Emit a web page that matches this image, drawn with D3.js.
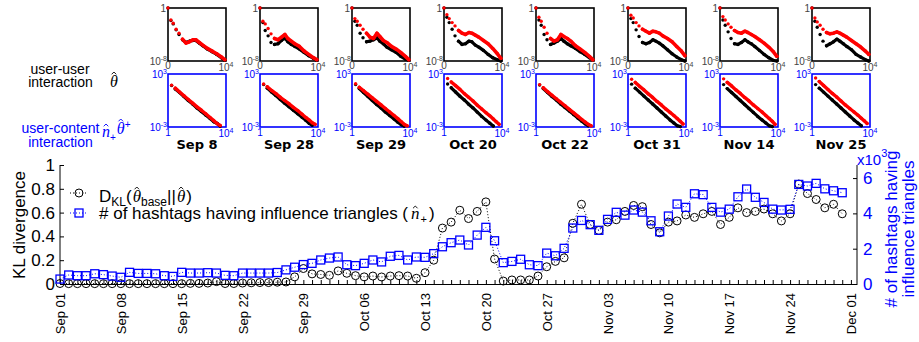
<!DOCTYPE html>
<html>
<head>
<meta charset="utf-8">
<script src="https://cdn.jsdelivr.net/npm/d3@7"></script>
<style>
  body { margin: 0; background: #fff; }
  svg { display: block; }
</style>
</head>
<body>
<svg id="chart" width="919" height="342"></svg>
<script>
// daily values, Sep 01 .. Nov 30
const klDiv = [0.004, 0.003, 0.003, 0.003, 0.003, 0.003, 0.003, 0.003, 0.003, 0.003,
  0.003, 0.003, 0.003, 0.003, 0.003, 0.005, 0.005, 0.008, 0.02, 0.004,
  0.004, 0.008, 0.01, 0.012, 0.012, 0.015, 0.017, 0.06, 0.13, 0.085,
  0.08, 0.073, 0.11, 0.09, 0.07, 0.06, 0.067, 0.059, 0.067, 0.07,
  0.067, 0.048, 0.095, 0.2, 0.47, 0.52, 0.62, 0.55, 0.61, 0.69,
  0.21, 0.025, 0.034, 0.034, 0.034, 0.067, 0.145, 0.19, 0.22, 0.51,
  0.67, 0.5, 0.45, 0.52, 0.54, 0.61, 0.66, 0.65, 0.5, 0.43,
  0.52, 0.53, 0.58, 0.56, 0.59, 0.61, 0.5, 0.56, 0.64, 0.6,
  0.61, 0.63, 0.59, 0.53, 0.59, 0.84, 0.76, 0.71, 0.64, 0.67, 0.59];
// # of hashtags having influence triangles (x10^3)
const nTriangles = [0.28, 0.51, 0.47, 0.47, 0.58, 0.53, 0.45, 0.38, 0.66, 0.6,
  0.6, 0.58, 0.47, 0.43, 0.66, 0.62, 0.62, 0.64, 0.62, 0.49,
  0.47, 0.62, 0.62, 0.62, 0.62, 0.65, 0.8, 0.95, 1.1, 1.17,
  1.36, 1.47, 1.53, 1.09, 1.04, 1.17, 1.36, 1.25, 1.57, 1.62,
  1.36, 1.53, 1.51, 1.72, 2.11, 2.34, 2.49, 2.21, 2.77, 3.21,
  2.45, 1.21, 1.28, 1.4, 1.09, 1.04, 1.75, 1.6, 2.02, 3.17,
  3.6, 3.36, 3.04, 3.66, 4.06, 3.9, 4.19, 4.07, 3.58, 2.96,
  3.85, 4.53, 4.34, 5.11, 5.06, 4.34, 4.07, 4.24, 4.94, 5.38,
  4.91, 4.62, 4.24, 4.19, 4.23, 5.64, 5.55, 5.7, 5.39, 5.28, 5.17];
const xTickLabels = ["Sep 01", "Sep 08", "Sep 15", "Sep 22", "Sep 29", "Oct 06", "Oct 13",
  "Oct 20", "Oct 27", "Nov 03", "Nov 10", "Nov 17", "Nov 24", "Dec 01"];
const leftTicks = [0, 0.2, 0.4, 0.6, 0.8, 1];
const rightTicks = [0, 2, 4, 6];

// small panels
const panelDates = ["Sep 8", "Sep 28", "Sep 29", "Oct 20", "Oct 22", "Oct 31", "Nov 14", "Nov 25"];
// user-user: x linear 0..1e4, y as log10 exponent
const uuX = [0, 500, 900, 1400, 1900, 2500, 3100, 3700, 4300, 4800, 5400, 6000, 6800, 7600, 8400, 9200, 9800];
const uuRed = [
  [0, -1.8, -2.3, -3.2, -3.8, -4.7, -5.3, -5.1, -4.8, -4.8, -5.2, -5.6, -6.1, -6.5, -6.9, -7.4, -7.8],
  [0, -2.0, -2.4, -3.1, -3.9, -4.6, -4.8, -4.4, -4.0, -4.6, -5.0, -5.4, -5.8, -6.5, -7.0, -7.5, -7.8],
  [0, -1.6, -2.0, -2.6, -3.2, -3.8, -4.4, -4.6, -3.8, -4.3, -4.9, -5.2, -5.8, -6.2, -6.7, -7.3, -7.8],
  [0, -1.0, -1.6, -2.2, -2.7, -3.4, -3.8, -4.0, -3.7, -3.8, -4.1, -4.4, -4.9, -5.4, -6.1, -6.9, -7.6],
  [0, -1.4, -2.0, -2.9, -3.8, -4.6, -5.0, -4.8, -4.0, -4.3, -4.6, -5.0, -5.7, -6.2, -6.7, -7.3, -7.8],
  [0, -1.1, -1.5, -2.2, -2.7, -3.2, -3.5, -3.8, -3.5, -3.6, -3.8, -4.2, -4.6, -5.1, -5.8, -6.5, -7.2],
  [0, -1.3, -1.8, -2.4, -2.9, -3.4, -3.7, -3.8, -3.5, -3.7, -4.0, -4.3, -4.8, -5.3, -5.9, -6.6, -7.3],
  [0, -1.5, -2.1, -2.6, -3.2, -3.7, -3.9, -3.8, -3.6, -3.8, -4.1, -4.4, -4.9, -5.4, -5.9, -6.5, -7.0]];
const uuBlack = [
  [0, -1.9, -2.4, -3.3, -4.0, -4.8, -5.2, -5.0, -4.9, -4.9, -5.3, -5.7, -6.2, -6.6, -7.0, -7.5, -7.9],
  [0, -2.2, -3.4, -4.2, -5.2, -5.5, -5.4, -4.9, -4.5, -5.1, -5.5, -5.8, -6.2, -6.7, -7.2, -7.6, -7.9],
  [0, -2.0, -2.6, -3.8, -4.5, -5.1, -5.0, -4.8, -4.5, -5.0, -5.4, -5.9, -6.3, -6.7, -7.3, -7.7, -7.9],
  [0, -1.4, -2.2, -3.2, -4.2, -5.0, -5.5, -5.4, -5.0, -5.1, -5.6, -5.9, -6.4, -7.0, -7.5, -7.8, -8.0],
  [0, -1.8, -2.6, -4.0, -4.8, -5.5, -5.3, -5.0, -4.6, -5.0, -5.4, -5.7, -6.1, -6.6, -7.0, -7.5, -7.8],
  [0, -1.6, -2.2, -3.3, -4.3, -5.2, -5.4, -5.2, -4.8, -5.0, -5.3, -5.7, -6.3, -6.9, -7.4, -7.8, -8.0],
  [0, -1.8, -2.6, -3.6, -4.6, -5.4, -5.5, -5.2, -4.8, -5.1, -5.4, -5.8, -6.4, -7.0, -7.5, -7.9, -8.0],
  [0, -2.0, -2.9, -4.0, -5.0, -5.7, -5.4, -5.1, -4.7, -5.0, -5.4, -5.8, -6.3, -7.0, -7.4, -7.8, -8.0]];
// user-content: log10 x (1..1e4) and log10 y (1e-3..1e3)
const ucX = [0.25, 0.5, 0.8, 1.1, 1.4, 1.7, 2.0, 2.3, 2.6, 2.9, 3.16, 3.4, 3.6, 3.8];
const ucRed = [
  [1.74, 1.4, 0.96, 0.54, 0.12, -0.3, -0.72, -1.1, -1.5, -1.92, -2.28, -2.64, -2.82, null],
  [1.86, 1.56, 1.14, 0.78, 0.36, 0, -0.36, -0.78, -1.14, -1.56, -1.92, -2.22, -2.52, -2.7],
  [1.9, 1.5, 1.1, 0.7, 0.3, -0.1, -0.5, -0.9, -1.3, -1.7, -2.05, -2.4, -2.7, -2.85],
  [2.49, 2.1, 1.68, 1.26, 0.78, 0.36, -0.06, -0.54, -0.96, -1.38, -1.74, -2.1, -2.4, -2.7],
  [1.8, 1.45, 1.0, 0.6, 0.2, -0.2, -0.6, -1.0, -1.4, -1.8, -2.15, -2.45, -2.7, -2.85],
  [2.4, 2.05, 1.6, 1.2, 0.75, 0.35, -0.1, -0.5, -0.95, -1.35, -1.7, -2.05, -2.35, -2.65],
  [2.45, 2.05, 1.65, 1.2, 0.8, 0.35, -0.05, -0.5, -0.9, -1.3, -1.7, -2.05, -2.35, -2.7],
  [2.55, 2.15, 1.7, 1.25, 0.8, 0.4, -0.05, -0.5, -0.9, -1.3, -1.65, -2.0, -2.3, -2.6]];
const ucBlack = [
  [1.7, 1.3, 0.9, 0.45, 0.0, -0.4, -0.85, -1.25, -1.65, -2.05, -2.4, -2.6, -2.9, null],
  [1.8, 1.4, 0.95, 0.55, 0.1, -0.3, -0.7, -1.1, -1.5, -1.9, -2.25, -2.6, -2.8, null],
  [1.8, 1.35, 0.9, 0.45, 0.0, -0.45, -0.85, -1.3, -1.7, -2.1, -2.45, -2.75, -2.9, null],
  [1.86, 1.44, 0.96, 0.48, 0.06, -0.42, -0.84, -1.32, -1.8, -2.22, -2.58, -2.88, null, null],
  [1.75, 1.35, 0.9, 0.45, 0.05, -0.4, -0.8, -1.2, -1.6, -2.0, -2.35, -2.65, -2.85, null],
  [1.85, 1.4, 0.95, 0.5, 0.05, -0.4, -0.85, -1.3, -1.75, -2.2, -2.55, -2.85, -2.95, null],
  [1.8, 1.35, 0.9, 0.45, 0.0, -0.45, -0.9, -1.35, -1.8, -2.2, -2.55, -2.85, -2.95, null],
  [1.8, 1.4, 0.95, 0.5, 0.05, -0.4, -0.85, -1.3, -1.75, -2.2, -2.55, -2.85, null, null]];

const BLUE = "#0000ff";
const SANS = "'Liberation Sans', Arial, sans-serif";
const svg = d3.select("#chart");

// text made of pieces (subscripts, italics, hats)
function rich(parent, x, y, parts, o) {
  const g = parent.append("g");
  let cx = 0;
  parts.forEach((p) => {
    cx += p.pre || 0;
    const t = g.append("text")
      .attr("x", cx)
      .attr("y", p.dy || 0)
      .attr("font-family", p.serif ? "'Liberation Serif', serif" : (o.family || SANS))
      .attr("font-style", p.serif ? "italic" : null)
      .attr("font-weight", o.weight || null)
      .attr("font-size", p.size || o.size)
      .attr("fill", o.fill)
      .text(p.t);
    const w = t.node().getComputedTextLength();
    if (p.hat) {
      const hy = (p.dy || 0) - p.hat;
      g.append("path")
        .attr("d", `M${cx + w / 2 - 2.3},${hy + 2.3}L${cx + w / 2},${hy}L${cx + w / 2 + 2.3},${hy + 2.3}`)
        .attr("fill", "none").attr("stroke", o.fill).attr("stroke-width", 0.9);
    }
    cx += w + (p.gap || 0);
  });
  let ox = x;
  if (o.anchor === "end") ox = x - cx;
  if (o.anchor === "middle") ox = x - cx / 2;
  g.attr("transform", `translate(${ox},${y})`);
  return g;
}

// ---------- small panels ----------
const PW = 58, PH = 53, P0 = 168, PSTEP = 92, TOPY = 8, BOTY = 74;
const pxLin = d3.scaleLinear().domain([0, 10000]).range([0, PW]);
const pyTop = d3.scaleLog().domain([1e-8, 1]).range([PH, 0]);
const pxLog = d3.scaleLog().domain([1, 1e4]).range([0, PW]);
const pyBot = d3.scaleLog().domain([1e-3, 1e3]).range([PH, 0]);

function drawSeries(g, xs, ys, sx, sy, color, denseFrom, width) {
  const pts = ys.map((v, i) => (v === null ? null : [sx(xs[i]), sy(v)]));
  const line = d3.line().defined((d) => d !== null);
  g.append("path")
    .attr("d", line(pts.slice(denseFrom)))
    .attr("fill", "none").attr("stroke", color)
    .attr("stroke-width", width).attr("stroke-linecap", "round").attr("stroke-linejoin", "round");
  g.selectAll(null).data(pts.filter((d) => d !== null)).enter().append("circle")
    .attr("cx", (d) => d[0]).attr("cy", (d) => d[1]).attr("r", 1.7).attr("fill", color);
}

panelDates.forEach((date, k) => {
  const left = P0 + k * PSTEP;
  // user-user panel
  const gt = svg.append("g").attr("transform", `translate(${left},${TOPY})`);
  gt.append("rect").attr("width", PW).attr("height", PH)
    .attr("fill", "none").attr("stroke", "#000").attr("stroke-width", 1.6);
  const tx = (v) => pxLin(v);
  const ty = (e) => pyTop(Math.pow(10, e));
  drawSeries(gt, uuX, uuBlack[k], tx, ty, "#000", 5, 3.2);
  drawSeries(gt, uuX, uuRed[k], tx, ty, "#ff0000", 5, 3.6);
  const grey = "#444";
  gt.append("text").attr("x", -2).attr("y", 4).attr("text-anchor", "end")
    .attr("font-family", SANS).attr("font-size", 10).attr("fill", grey).text("1");
  rich(gt, -1, PH + 4, [{ t: "10" }, { t: "-8", size: 7, dy: -4 }], { size: 10, fill: grey, anchor: "end" });
  gt.append("text").attr("x", 0).attr("y", PH + 8).attr("text-anchor", "middle")
    .attr("font-family", SANS).attr("font-size", 10).attr("fill", grey).text("0");
  rich(gt, PW, PH + 10, [{ t: "10" }, { t: "4", size: 7, dy: -4 }], { size: 10, fill: grey, anchor: "middle" });

  // user-content panel
  const gb = svg.append("g").attr("transform", `translate(${left},${BOTY})`);
  gb.append("rect").attr("width", PW).attr("height", PH)
    .attr("fill", "none").attr("stroke", BLUE).attr("stroke-width", 1.6);
  const bx = (e) => pxLog(Math.pow(10, e));
  const by = (e) => pyBot(Math.pow(10, e));
  drawSeries(gb, ucX, ucBlack[k], bx, by, "#000", 1, 3.2);
  drawSeries(gb, ucX, ucRed[k], bx, by, "#ff0000", 1, 3.4);
  rich(gb, -1, 4, [{ t: "10" }, { t: "3", size: 7, dy: -4 }], { size: 10, fill: BLUE, anchor: "end" });
  rich(gb, -1, PH + 4, [{ t: "10" }, { t: "-3", size: 7, dy: -4 }], { size: 10, fill: BLUE, anchor: "end" });
  gb.append("text").attr("x", 0).attr("y", PH + 9).attr("text-anchor", "middle")
    .attr("font-family", SANS).attr("font-size", 10).attr("fill", BLUE).text("1");
  rich(gb, PW, PH + 10, [{ t: "10" }, { t: "4", size: 7, dy: -4 }], { size: 10, fill: BLUE, anchor: "middle" });

  svg.append("text").attr("x", left + PW / 2).attr("y", 149).attr("text-anchor", "middle")
    .attr("font-family", "'DejaVu Sans', sans-serif").attr("font-weight", "bold")
    .attr("font-size", 13).attr("fill", "#000").text(date);
});

// row labels
const rowLab = (txt, cx, y, fill) =>
  svg.append("text").attr("x", cx).attr("y", y).attr("text-anchor", "middle")
    .attr("font-family", SANS).attr("font-size", 14).attr("fill", fill).text(txt);
rowLab("user-user", 60, 74, "#000");
rowLab("interaction", 60.5, 87, "#000");
rowLab("user-content", 60.5, 133, BLUE);
rowLab("interaction", 60.5, 147, BLUE);
rich(svg, 110, 87, [{ t: "\u03b8", serif: true, hat: 15 }], { size: 16, fill: "#000" });
rich(svg, 102, 137, [
  { t: "n", serif: true, hat: 13 },
  { t: "+", size: 10, dy: 4, gap: 1 },
  { t: "\u03b8", serif: true, hat: 15, dy: -3 },
  { t: "+", size: 10, dy: -9 }
], { size: 16, fill: BLUE });

// ---------- main chart ----------
const x = d3.scaleLinear().domain([0, 91.7]).range([60, 857]);
const yL = d3.scaleLinear().domain([0, 1]).range([284, 165]);
const yR = d3.scaleLinear().domain([0, 6.74]).range([284, 165]);

const gx = svg.append("g").attr("transform", "translate(0,284)")
  .call(d3.axisBottom(x)
    .tickValues(d3.range(0, 92))
    .tickSize(-4).tickSizeOuter(0)
    .tickFormat((d) => (d % 7 === 0 ? xTickLabels[d / 7] : "")));
gx.selectAll("text")
  .attr("transform", "rotate(-90)")
  .attr("x", -9).attr("y", 0).attr("dy", "0.35em")
  .attr("text-anchor", "end")
  .attr("font-family", SANS).attr("font-size", 13).attr("fill", "#000");

const gl = svg.append("g").attr("transform", "translate(60,0)")
  .call(d3.axisLeft(yL).tickValues(leftTicks).tickSize(-4).tickSizeOuter(0).tickPadding(5)
    .tickFormat(d3.format("")));
gl.selectAll("text").attr("font-family", SANS).attr("font-size", 17).attr("fill", "#000");

const gr = svg.append("g").attr("transform", "translate(857,0)")
  .call(d3.axisRight(yR).tickValues(rightTicks).tickSize(-4).tickSizeOuter(0).tickPadding(6)
    .tickFormat(d3.format("")));
gr.selectAll("text").attr("font-family", SANS).attr("font-size", 17).attr("fill", BLUE);
gr.select(".domain").attr("d", "M0,284V165");
gl.select(".domain").attr("d", "M0,284V165");
[gx, gl, gr].forEach((g) => g.selectAll("line, path").attr("stroke", "#000"));

rich(svg, 857, 165, [{ t: "x10" }, { t: "3", size: 11, dy: -8 }], { size: 15, fill: BLUE });

svg.append("text").attr("transform", "translate(25,225) rotate(-90)")
  .attr("text-anchor", "middle").attr("font-family", SANS).attr("font-size", 17)
  .attr("fill", "#000").text("KL divergence");
svg.append("text").attr("transform", "translate(897,229) rotate(-90)")
  .attr("text-anchor", "middle").attr("font-family", SANS).attr("font-size", 17)
  .attr("fill", BLUE).text("# of hashtags having");
svg.append("text").attr("transform", "translate(914,229) rotate(-90)")
  .attr("text-anchor", "middle").attr("font-family", SANS).attr("font-size", 17)
  .attr("fill", BLUE).text("influence triangles");

// series
const lineL = d3.line().x((d, i) => x(i)).y((d) => yL(d));
const lineR = d3.line().x((d, i) => x(i)).y((d) => yR(d));
svg.append("path").attr("d", lineL(klDiv)).attr("fill", "none")
  .attr("stroke", "#000").attr("stroke-width", 1).attr("stroke-dasharray", "1,2");
svg.append("g").selectAll("circle").data(klDiv).enter().append("circle")
  .attr("cx", (d, i) => x(i)).attr("cy", (d) => yL(d)).attr("r", 4)
  .attr("fill", "none").attr("stroke", "#000").attr("stroke-width", 1);
svg.append("path").attr("d", lineR(nTriangles)).attr("fill", "none")
  .attr("stroke", BLUE).attr("stroke-width", 1).attr("stroke-dasharray", "1,2");
svg.append("g").selectAll("rect").data(nTriangles).enter().append("rect")
  .attr("x", (d, i) => x(i) - 4).attr("y", (d) => yR(d) - 4)
  .attr("width", 8).attr("height", 8)
  .attr("fill", "none").attr("stroke", BLUE).attr("stroke-width", 1.3);

// legend
const lg = svg.append("g");
lg.append("path").attr("d", "M70,193H88").attr("stroke", "#000")
  .attr("stroke-dasharray", "1,2");
lg.append("circle").attr("cx", 79).attr("cy", 193).attr("r", 4)
  .attr("fill", "none").attr("stroke", "#000");
lg.append("path").attr("d", "M70,213H88").attr("stroke", BLUE)
  .attr("stroke-dasharray", "1,2");
lg.append("rect").attr("x", 75).attr("y", 209).attr("width", 8).attr("height", 8)
  .attr("fill", "none").attr("stroke", BLUE).attr("stroke-width", 1.3);
rich(lg, 99, 202, [
  { t: "D" },
  { t: "KL", size: 12, dy: 4 },
  { t: "(", gap: 1 },
  { t: "\u03b8", serif: true, hat: 15 },
  { t: "base", size: 12, dy: 4 },
  { t: "||", gap: 1 },
  { t: "\u03b8", serif: true, hat: 15, gap: 1 },
  { t: ")" }
], { size: 17, fill: "#000" });
rich(lg, 99, 219, [
  { t: "# of hashtags having influence triangles (", gap: 3 },
  { t: "n", serif: true, hat: 13, gap: 1 },
  { t: "+", size: 11, dy: 4, gap: 2 },
  { t: ")" }
], { size: 17, fill: "#000" });
</script>
</body>
</html>
